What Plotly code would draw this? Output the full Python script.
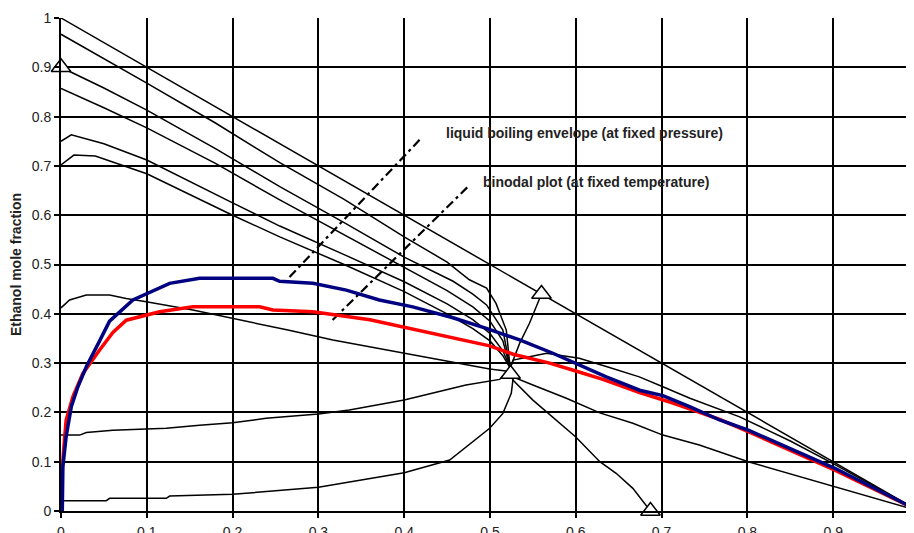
import plotly.graph_objects as go

# ---------------- data ----------------
diag_x = [0.0, 1.0]
diag_y = [1.0, 0.0]

curveB_x = [0, 0.05, 0.1, 0.18, 0.255, 0.33, 0.4, 0.45, 0.476, 0.496, 0.507, 0.519, 0.5235]
curveB_y = [0.967, 0.918, 0.868, 0.787, 0.7065, 0.632, 0.556, 0.505, 0.469, 0.452, 0.421, 0.367, 0.29]

curveC_x = [0, 0.05, 0.1, 0.18, 0.255, 0.33, 0.4, 0.457, 0.48, 0.496, 0.515, 0.5235]
curveC_y = [0.900, 0.858, 0.813, 0.735, 0.658, 0.585, 0.515, 0.466, 0.44, 0.418, 0.367, 0.29]

curveD_x = [0, 0.05, 0.1, 0.18, 0.255, 0.33, 0.4, 0.45, 0.48, 0.50, 0.515, 0.5235]
curveD_y = [0.857, 0.818, 0.777, 0.705, 0.631, 0.56, 0.495, 0.447, 0.414, 0.385, 0.345, 0.29]

curveE_x = [0, 0.012, 0.05, 0.1, 0.2, 0.255, 0.33, 0.4, 0.45, 0.48, 0.50, 0.515, 0.5235]
curveE_y = [0.75, 0.763, 0.745, 0.712, 0.625, 0.578, 0.52, 0.465, 0.42, 0.388, 0.36, 0.325, 0.29]

curveF_x = [0, 0.015, 0.04, 0.1, 0.2, 0.255, 0.33, 0.4, 0.45, 0.48, 0.50, 0.515, 0.5235]
curveF_y = [0.702, 0.722, 0.72, 0.684, 0.60, 0.556, 0.50, 0.445, 0.40, 0.37, 0.345, 0.315, 0.29]

curveH_x = [0, 0.01, 0.0295, 0.0566, 0.076, 0.0994, 0.1537, 0.2, 0.2645, 0.3169, 0.3985, 0.453, 0.4996, 0.5235]
curveH_y = [0.412, 0.428, 0.438, 0.438, 0.431, 0.4245, 0.4077, 0.391, 0.367, 0.347, 0.32, 0.303, 0.288, 0.283]

curveK_x = [0.5235, 0.5267, 0.55, 0.589, 0.628, 0.6665, 0.7015, 0.744, 0.801, 0.861, 0.902, 1.0]
curveK_y = [0.283, 0.272, 0.2556, 0.2286, 0.199, 0.178, 0.154, 0.134, 0.10, 0.0696, 0.049, 0.0]

curveI_x = [0, 0.0217, 0.0295, 0.0605, 0.0916, 0.1227, 0.1615, 0.2, 0.239, 0.3, 0.336, 0.4, 0.472, 0.5112, 0.5235]
curveI_y = [0.154, 0.154, 0.159, 0.164, 0.166, 0.168, 0.174, 0.179, 0.188, 0.197, 0.205, 0.225, 0.2556, 0.267, 0.285]

curveJ_x = [0.5235, 0.527, 0.546, 0.566, 0.581, 0.604, 0.6355, 0.674, 0.7015, 0.733, 0.791, 0.85, 0.9, 0.95, 1.0]
curveJ_y = [0.29, 0.306, 0.313, 0.32, 0.316, 0.31, 0.293, 0.272, 0.252, 0.2286, 0.191, 0.142, 0.096, 0.048, 0.0]

curveL_x = [0, 0.0528, 0.0566, 0.1227, 0.1266, 0.2, 0.3, 0.4, 0.453, 0.4996, 0.515, 0.5248, 0.5267, 0.5235]
curveL_y = [0.021, 0.021, 0.0258, 0.0258, 0.0304, 0.0339, 0.048, 0.0777, 0.1034, 0.1677, 0.198, 0.2387, 0.2657, 0.29]

curveG_x = [0.5235, 0.5345, 0.546, 0.56]
curveG_y = [0.29, 0.34, 0.3807, 0.44]

curveM_x = [0.5235, 0.5267, 0.55, 0.6, 0.628, 0.647, 0.6665, 0.687]
curveM_y = [0.285, 0.2657, 0.225, 0.15, 0.10, 0.0765, 0.046, 0.0]

boiling_x = [0.0015, 0.0022, 0.006, 0.012, 0.0197, 0.0295, 0.045, 0.0566, 0.0838, 0.1266, 0.1615, 0.247,
             0.2548, 0.2936, 0.3325, 0.371, 0.41, 0.4568, 0.4957, 0.5345, 0.5733, 0.5998, 0.6355, 0.6744,
             0.7015, 0.7326, 0.7676, 0.801, 0.902, 1.0]
boiling_y = [0.0, 0.09, 0.151, 0.2116, 0.252, 0.2927, 0.345, 0.385, 0.428, 0.4618, 0.472, 0.472,
             0.466, 0.462, 0.448, 0.428, 0.414, 0.392, 0.3706, 0.347, 0.32, 0.2996, 0.272, 0.245,
             0.234, 0.2116, 0.1846, 0.164, 0.0866, 0.0]

binodal_x = [0.0, 0.0005, 0.004, 0.006, 0.0139, 0.0255, 0.045, 0.0605, 0.0761, 0.115, 0.1537, 0.2315,
             0.247, 0.278, 0.2936, 0.36, 0.4, 0.418, 0.457, 0.4996, 0.527, 0.5695, 0.6, 0.6316, 0.6744,
             0.7132, 0.7676, 0.801, 0.902, 1.0]
binodal_y = [0.0, 0.063, 0.144, 0.1846, 0.232, 0.279, 0.3266, 0.362, 0.387, 0.404, 0.4144, 0.4144,
             0.4077, 0.406, 0.404, 0.388, 0.373, 0.367, 0.352, 0.335, 0.318, 0.3, 0.284, 0.267, 0.24,
             0.219, 0.186, 0.161, 0.083, 0.0]

azeo_x = [0.0, 0.56, 0.524, 0.687]
azeo_y = [0.9, 0.44, 0.278, 0.0]

pointer1_x = [0.2664, 0.4211]
pointer1_y = [0.4746, 0.7586]
pointer2_x = [0.3165, 0.4751]
pointer2_y = [0.3874, 0.6592]

label1 = "liquid boiling envelope (at fixed pressure)"
label1_pos = (0.4459, 0.7673)
label2 = "binodal plot (at fixed temperature)"
label2_pos = (0.489, 0.668)

x_ticks = [0, 0.1, 0.2, 0.3, 0.4, 0.5, 0.6, 0.7, 0.8, 0.9]
y_ticks = [0, 0.1, 0.2, 0.3, 0.4, 0.5, 0.6, 0.7, 0.8, 0.9, 1]

# ---------------- figure ----------------
FONT = "Liberation Sans, Arial, sans-serif"
fig = go.Figure()

black_curves = [
    (diag_x, diag_y), (curveB_x, curveB_y), (curveC_x, curveC_y), (curveD_x, curveD_y),
    (curveE_x, curveE_y), (curveF_x, curveF_y), (curveH_x, curveH_y), (curveK_x, curveK_y),
    (curveI_x, curveI_y), (curveJ_x, curveJ_y), (curveL_x, curveL_y), (curveG_x, curveG_y),
    (curveM_x, curveM_y),
]
for cx, cy in black_curves:
    fig.add_trace(go.Scatter(x=cx, y=cy, mode="lines",
                             line=dict(color="black", width=1.5), showlegend=False,
                             hoverinfo="skip"))

for px_, py_ in [(pointer1_x, pointer1_y), (pointer2_x, pointer2_y)]:
    fig.add_trace(go.Scatter(x=px_, y=py_, mode="lines",
                             line=dict(color="black", width=2.2, dash="9px,4px,3px,4px"),
                             showlegend=False, hoverinfo="skip"))

fig.add_trace(go.Scatter(x=binodal_x, y=binodal_y, mode="lines",
                         line=dict(color="#FF0000", width=3.5), showlegend=False))
fig.add_trace(go.Scatter(x=boiling_x, y=boiling_y, mode="lines",
                         line=dict(color="#000080", width=3.5), showlegend=False))

fig.add_trace(go.Scatter(x=azeo_x, y=azeo_y, mode="markers", cliponaxis=False,
                         marker=dict(symbol="triangle-up", size=17, color="white",
                                     line=dict(color="black", width=1.5)),
                         showlegend=False))

fig.add_annotation(x=label1_pos[0], y=label1_pos[1], text="<b>" + label1 + "</b>",
                   showarrow=False, xanchor="left", yanchor="middle",
                   font=dict(family=FONT, size=14, color="#222"))
fig.add_annotation(x=label2_pos[0], y=label2_pos[1], text="<b>" + label2 + "</b>",
                   showarrow=False, xanchor="left", yanchor="middle",
                   font=dict(family=FONT, size=14, color="#222"))

# page body has an 8px margin, so the figure is sized to the remaining viewport
fig.update_layout(
    width=906, height=525,
    margin=dict(l=53, r=0, t=10, b=22),
    paper_bgcolor="white", plot_bgcolor="white",
    font=dict(family=FONT, size=14, color="#222"),
    showlegend=False,
)
fig.update_xaxes(range=[0, 853 / 858], tickvals=x_ticks, ticktext=[str(v) for v in x_ticks],
                 showgrid=True, gridcolor="black", gridwidth=2,
                 showline=True, linecolor="black", linewidth=2, zeroline=False,
                 ticks="outside", ticklen=5, tickwidth=2, tickcolor="black",
                 ticklabelstandoff=2,
                 automargin=False, tickfont=dict(size=14, family=FONT, color="#222"))
fig.update_yaxes(range=[0, 1], tickvals=y_ticks, ticktext=[str(v) for v in y_ticks],
                 showgrid=True, gridcolor="black", gridwidth=2,
                 showline=True, linecolor="black", linewidth=2, zeroline=False,
                 ticks="outside", ticklen=5, tickwidth=2, tickcolor="black",
                 automargin=False, tickfont=dict(size=14, family=FONT, color="#222"),
                 title=dict(text="<b>Ethanol mole fraction</b>", standoff=8,
                            font=dict(size=14, family=FONT, color="#222")))

fig.write_html("out.html")
